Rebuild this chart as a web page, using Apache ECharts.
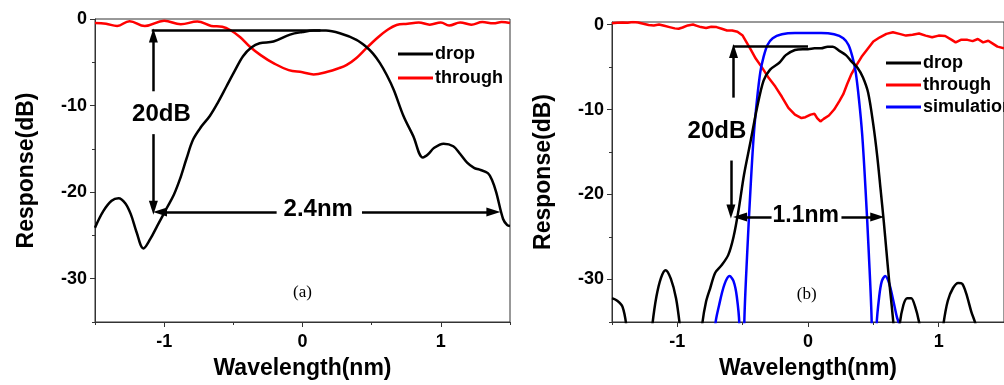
<!DOCTYPE html>
<html>
<head>
<meta charset="utf-8">
<script src="https://cdn.jsdelivr.net/npm/echarts@6/dist/echarts.min.js"></script>
<style>
 html, body { margin: 0; padding: 0; background: #fff; }
 #chart { width: 1004px; height: 385px; }
</style>
</head>
<body>
<div id="chart"></div>
<script>
// tick values shared by both panels
const xTicks = [-1, 0, 1];
const xMinorTicks = [-1.5, -0.5, 0.5, 1.5];
const yTicks = [-30, -20, -10, 0];
const yMinorTicks = [-35, -25, -15, -5];

// panel (a): measured drop / through, [wavelength nm, dB]
const dropA = [
 [-1.5, -24.1], [-1.44, -22.2], [-1.38, -21.0], [-1.33, -20.7], [-1.28, -21.3], [-1.24, -22.6],
 [-1.2, -24.6], [-1.15, -26.5], [-1.1, -25.4], [-1.05, -23.9], [-0.98, -21.8], [-0.93, -20.3],
 [-0.886, -18.5], [-0.84, -16.2], [-0.79, -13.9], [-0.73, -12.4], [-0.67, -11.2], [-0.61, -9.6],
 [-0.55, -7.8], [-0.49, -6.0], [-0.43, -4.3], [-0.37, -3.3], [-0.31, -2.8], [-0.21, -2.6],
 [-0.09, -1.8], [0.0, -1.5], [0.08, -1.34], [0.17, -1.34], [0.27, -1.65], [0.39, -2.4],
 [0.46, -3.2], [0.51, -4.0], [0.56, -5.1], [0.61, -6.5], [0.66, -8.2], [0.73, -11.2],
 [0.8, -13.5], [0.87, -16.0], [0.91, -15.6], [0.95, -14.9], [1.02, -14.4], [1.09, -14.7],
 [1.14, -15.6], [1.19, -16.6], [1.24, -17.2], [1.28, -17.4], [1.34, -17.8], [1.37, -18.6],
 [1.4, -20.0], [1.45, -23.1], [1.48, -23.8], [1.5, -23.9]
];
const throughA = [
 [-1.5, -0.45], [-1.42, -0.55], [-1.34, -0.8], [-1.25, -0.25], [-1.14, -0.8], [-1.0, -0.2],
 [-0.88, -0.6], [-0.76, -0.3], [-0.66, -0.8], [-0.58, -0.9], [-0.52, -1.3], [-0.45, -2.1],
 [-0.38, -3.2], [-0.3, -4.2], [-0.21, -5.1], [-0.1, -5.9], [0.0, -6.15], [0.08, -6.4],
 [0.18, -6.1], [0.26, -5.7], [0.32, -5.3], [0.39, -4.5], [0.46, -3.4], [0.54, -2.2],
 [0.61, -1.3], [0.68, -0.7], [0.76, -0.55], [0.84, -0.4], [0.92, -0.65], [1.0, -0.4],
 [1.06, -0.75], [1.14, -0.4], [1.22, -0.65], [1.3, -0.35], [1.38, -0.5], [1.44, -0.35], [1.5, -0.45]
];

// panel (b): measured drop / through and simulated drop
const dropB = [
 [-1.5, -32.2], [-1.46, -32.5], [-1.42, -33.2], [-1.39, -35.5], [-1.37, -40],
 [-1.22, -40], [-1.19, -35.2], [-1.16, -32.0], [-1.125, -29.8], [-1.09, -28.9], [-1.05, -29.9],
 [-1.01, -32.2], [-0.98, -35.5], [-0.95, -40],
 [-0.84, -40], [-0.81, -35.3], [-0.78, -32.6], [-0.748, -31.0], [-0.71, -29.2], [-0.66, -28.3],
 [-0.61, -27.1], [-0.57, -25.0], [-0.53, -21.7], [-0.49, -17.7], [-0.44, -13.8], [-0.39, -9.8],
 [-0.34, -6.6], [-0.29, -5.3], [-0.22, -4.5], [-0.17, -3.6], [-0.1, -3.0], [-0.04, -2.9],
 [0.0, -2.9], [0.05, -2.8], [0.1, -2.8], [0.15, -2.6], [0.19, -2.6], [0.24, -3.1],
 [0.29, -3.6], [0.33, -4.3], [0.38, -5.1], [0.42, -6.2], [0.46, -8.0], [0.5, -11.8],
 [0.53, -15.5], [0.555, -19.3], [0.58, -23.2], [0.6, -26.6], [0.62, -30.0], [0.64, -33.0],
 [0.655, -35.5], [0.67, -40],
 [0.68, -40], [0.7, -35.5], [0.73, -33.0], [0.76, -32.2], [0.79, -32.2], [0.82, -33.2],
 [0.85, -35.0], [0.87, -37], [0.88, -40],
 [1.0, -40], [1.036, -35.3], [1.07, -32.5], [1.11, -31.0], [1.15, -30.4], [1.18, -30.5],
 [1.21, -31.6], [1.25, -33.8], [1.284, -35.4], [1.31, -40], [1.5, -40]
];
const throughB = [
 [-1.5, 0.15], [-1.46, 0.2], [-1.42, 0.25], [-1.38, 0.2], [-1.34, 0.3], [-1.3, 0.25],
 [-1.26, 0.1], [-1.22, -0.05], [-1.18, -0.1], [-1.14, 0.0], [-1.1, -0.15], [-1.06, -0.3],
 [-1.02, -0.45], [-0.99, -0.5], [-0.96, -0.35], [-0.92, -0.1], [-0.88, 0.0], [-0.85, -0.15],
 [-0.82, -0.3], [-0.78, -0.4], [-0.74, -0.25], [-0.7, -0.3], [-0.66, -0.5], [-0.62, -0.7],
 [-0.58, -0.7], [-0.54, -0.85], [-0.5, -1.3], [-0.47, -2.1], [-0.44, -2.9], [-0.4, -4.0],
 [-0.35, -5.1], [-0.3, -6.3], [-0.25, -7.3], [-0.2, -8.5], [-0.15, -9.8], [-0.1, -10.6],
 [-0.05, -11.0], [-0.02, -10.9], [0.02, -10.6], [0.05, -10.5], [0.07, -11.0], [0.095, -11.4],
 [0.12, -11.1], [0.16, -10.7], [0.2, -10.0], [0.24, -9.0], [0.27, -8.2], [0.3, -7.0],
 [0.33, -5.9], [0.37, -4.8], [0.41, -3.8], [0.45, -3.0], [0.5, -2.0], [0.55, -1.5],
 [0.6, -1.1], [0.65, -0.9], [0.7, -1.1], [0.75, -1.3], [0.8, -1.2], [0.85, -1.05],
 [0.9, -1.3], [0.95, -1.5], [1.0, -1.3], [1.05, -1.35], [1.1, -1.8], [1.13, -2.1],
 [1.17, -1.8], [1.22, -1.8], [1.26, -1.95], [1.3, -1.7], [1.34, -2.1], [1.38, -1.9],
 [1.42, -2.3], [1.45, -2.6], [1.5, -2.8]
];
const simulationB = [
 [-0.73, -60], [-0.71, -35.5], [-0.68, -33.0], [-0.64, -30.6], [-0.6, -29.6], [-0.57, -30.2],
 [-0.545, -32.0], [-0.525, -35.5], [-0.512, -60],
 [-0.5, -60], [-0.488, -35.5], [-0.465, -26.8], [-0.44, -19.3], [-0.415, -13.0], [-0.39, -8.8],
 [-0.365, -5.6], [-0.34, -3.8], [-0.31, -2.4], [-0.27, -1.6], [-0.2, -1.15], [-0.1, -1.0],
 [0.0, -1.0], [0.1, -1.0], [0.2, -1.15], [0.27, -1.6], [0.31, -2.4], [0.34, -3.8],
 [0.365, -5.6], [0.39, -8.8], [0.415, -13.0], [0.44, -19.3], [0.465, -26.8], [0.488, -35.5],
 [0.5, -60],
 [0.512, -60], [0.525, -35.5], [0.545, -32.0], [0.565, -30.2], [0.59, -29.6], [0.62, -30.4],
 [0.65, -32.3], [0.68, -34.4], [0.7, -35.5], [0.72, -60]
];

const FONT = '"Liberation Sans", Arial, sans-serif';
const AXIS_COLOR = '#333';

const labelStyle = { color: '#000', fontSize: 18, fontWeight: 'bold', fontFamily: FONT };
const nameStyle = { color: '#000', fontSize: 23, fontWeight: 'bold', fontFamily: FONT };

const mainX = (gridIndex) => ({
 type: 'value', gridIndex, position: 'bottom', min: -1.5, max: 1.5,
 name: 'Wavelength(nm)', nameLocation: 'middle', nameGap: 35, nameTextStyle: nameStyle,
 axisLine: { show: true, onZero: false, lineStyle: { color: AXIS_COLOR, width: 1 } },
 axisTick: { show: true, customValues: xTicks, length: 5, lineStyle: { color: AXIS_COLOR } },
 axisLabel: { customValues: xTicks, margin: 11, ...labelStyle },
 splitLine: { show: false },
});
const minorX = (gridIndex) => ({
 type: 'value', gridIndex, position: 'bottom', min: -1.5, max: 1.5,
 axisLine: { show: false, onZero: false },
 axisTick: { show: true, customValues: xMinorTicks, length: 3, lineStyle: { color: AXIS_COLOR } },
 axisLabel: { show: false },
 splitLine: { show: false },
});
const mainY = (gridIndex, max) => ({
 type: 'value', gridIndex, position: 'left', min: -35, max,
 name: 'Response(dB)', nameLocation: 'middle', nameGap: 57, nameTextStyle: nameStyle,
 axisLine: { show: true, onZero: false, lineStyle: { color: AXIS_COLOR, width: 1 } },
 axisTick: { show: true, customValues: yTicks, length: 5, lineStyle: { color: AXIS_COLOR } },
 axisLabel: { customValues: yTicks, margin: 8, ...labelStyle },
 splitLine: { show: false },
});
const minorY = (gridIndex, max) => ({
 type: 'value', gridIndex, position: 'left', min: -35, max,
 axisLine: { show: false, onZero: false },
 axisTick: { show: true, customValues: yMinorTicks, length: 3, lineStyle: { color: AXIS_COLOR } },
 axisLabel: { show: false },
 splitLine: { show: false },
});

const arrowLine = { color: '#000', width: 2.5, type: 'solid' };
const seg = (a, b, tip) => [
 { coord: a, symbol: 'none' },
 { coord: b, symbol: tip ? 'triangle' : 'none' },
];
const textMark = (coord, text, size, serif) => ({
 coord, symbol: 'rect', symbolSize: 1, itemStyle: { color: 'rgba(0,0,0,0)' },
 label: {
  show: true, position: 'inside', formatter: text, color: '#000',
  fontSize: size, fontWeight: serif ? 'normal' : 'bold',
  fontFamily: serif ? '"Liberation Serif", "Times New Roman", serif' : FONT,
 },
});

const lineSeries = (name, data, color, xi, yi, smooth) => ({
 name, type: 'line', data, xAxisIndex: xi, yAxisIndex: yi,
 symbol: 'none', smooth, clip: true,
 lineStyle: { color, width: 2.5 }, itemStyle: { color },
 emphasis: { disabled: true },
});

const chart = echarts.init(document.getElementById('chart'), null, { renderer: 'canvas' });

const dropASeries = lineSeries('drop', dropA, '#000', 0, 0, 0.35);
dropASeries.markLine = {
 silent: true, symbol: ['none', 'none'], symbolSize: [9, 14], lineStyle: arrowLine,
 label: { show: false }, emphasis: { disabled: true },
 data: [
  seg([-1.09, -1.26], [0.13, -1.26], false),
  seg([-1.078, -8.35], [-1.078, -1.9], true),
  seg([-1.078, -13.3], [-1.078, -21.8], true),
  seg([-0.187, -22.3], [-1.03, -22.3], true),
  seg([0.43, -22.3], [1.38, -22.3], true),
 ],
};
dropASeries.markPoint = {
 silent: true,
 data: [
  textMark([-1.02, -11.0], '20dB', 24),
  textMark([0.114, -22.0], '2.4nm', 24),
  textMark([0.0, -31.6], '(a)', 17, true),
 ],
};

const dropBSeries = lineSeries('drop', dropB, '#000', 2, 2, 0.3);
dropBSeries.markLine = {
 silent: true, symbol: ['none', 'none'], symbolSize: [9, 14], lineStyle: arrowLine,
 label: { show: false }, emphasis: { disabled: true },
 data: [
  seg([-0.575, -2.57], [0.0, -2.57], false),
  seg([-0.57, -8.6], [-0.57, -3.1], true),
  seg([-0.59, -16.0], [-0.59, -22.0], true),
  seg([-0.279, -22.65], [-0.52, -22.65], true),
  seg([0.256, -22.65], [0.53, -22.65], true),
 ],
};
dropBSeries.markPoint = {
 silent: true,
 data: [
  textMark([-0.697, -12.6], '20dB', 24),
  textMark([-0.017, -22.5], '1.1nm', 23),
  textMark([-0.01, -31.8], '(b)', 17, true),
 ],
};

const legendBase = {
 orient: 'vertical', icon: 'rect', itemWidth: 35, itemHeight: 3, itemGap: 6, selectedMode: false,
 textStyle: { color: '#000', fontSize: 18, fontWeight: 'bold', fontFamily: FONT, padding: [0, 0, 0, -3] },
};

chart.setOption({
 animation: false,
 backgroundColor: '#fff',
 grid: [
  { left: 95, top: 19, width: 415, height: 304, show: true, borderColor: AXIS_COLOR, borderWidth: 1 },
  { left: 612, top: 22, width: 401, height: 300, show: true, borderColor: AXIS_COLOR, borderWidth: 1 },
 ],
 xAxis: [mainX(0), minorX(0), mainX(1), minorX(1)],
 yAxis: [mainY(0, 0), minorY(0, 0), mainY(1, 0.3), minorY(1, 0.3)],
 legend: [
  { ...legendBase, data: ['drop', 'through'], left: 393, top: 40 },
  { ...legendBase, data: ['drop', 'through', 'simulation'], left: 881, top: 49, itemGap: 4 },
 ],
 series: [
  lineSeries('through', throughA, '#ff0000', 0, 0, 0.4),
  dropASeries,
  lineSeries('through', throughB, '#ff0000', 2, 2, false),
  lineSeries('simulation', simulationB, '#0000ff', 2, 2, 0.3),
  dropBSeries,
 ],
});
</script>
</body>
</html>
